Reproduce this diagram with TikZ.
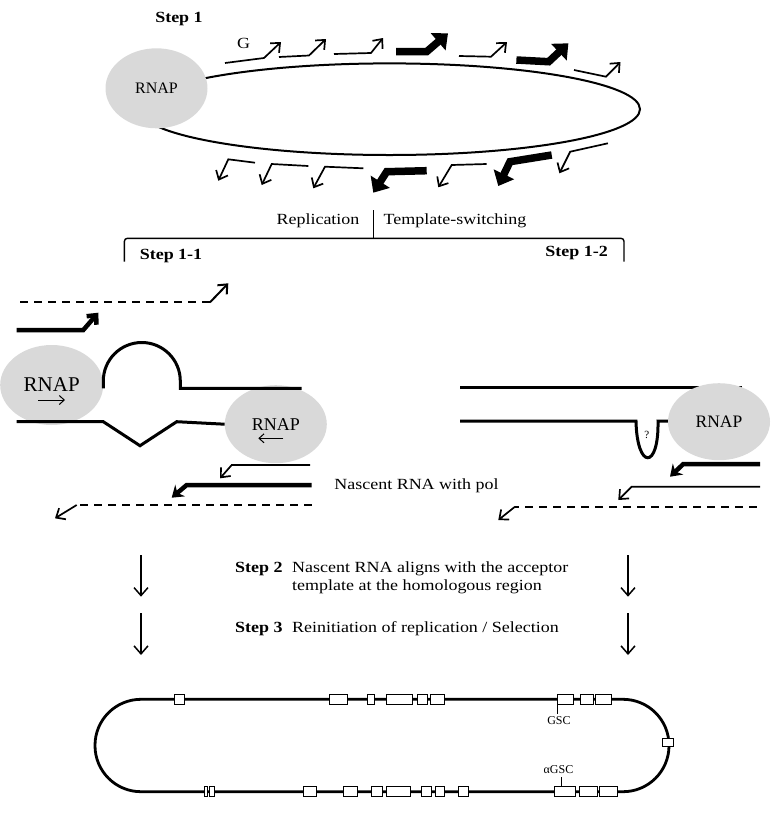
\documentclass[tikz,border=0pt]{standalone}
\usepackage{fontspec}
\setmainfont{Liberation Serif}
\usepackage{xcolor}
\usepackage{graphicx}
\usetikzlibrary{arrows.meta,shapes.geometric}
\definecolor{rnapgray}{RGB}{217,217,217}
\newcommand{\wide}[1]{\scalebox{1.16}[1]{#1}}

\begin{document}
\begin{tikzpicture}[x=1pt,y=-1pt,
        rnap/.style={ellipse,fill=rnapgray,inner sep=0pt,minimum width=102pt,minimum height=79pt},
        txt/.style={font=\fontsize{15.5}{15.5}\selectfont,inner sep=0pt},
        steplabel/.style={font=\fontsize{15.5}{15.5}\selectfont\bfseries,inner sep=0pt},
        thinarr/.style={line width=1.7pt,-{Straight Barb[length=7.5pt,width=13pt]}},
        thickarr/.style={line width=7.5pt,-{Triangle[length=13pt,width=22pt]}},
        boldarr/.style={line width=4.5pt,-{Straight Barb[length=7pt,width=13pt]}},
        dna/.style={line width=3pt},
        rnadash/.style={line width=2pt,dash pattern=on 8pt off 6pt},
        steparr/.style={line width=1.5pt,-{Straight Barb[length=8pt,width=14pt]}},
        gene/.style={draw,fill=white,line width=0.9pt}]
                \useasboundingbox (0,0) rectangle (771,820);
                \node[steplabel] (step1) at (179,19) {\wide{Step 1}};
                \draw[line width=2pt] (389.5,109.2) ellipse [x radius=250.5, y radius=45.8];
                \node[rnap,minimum height=80pt,font=\fontsize{16}{16}\selectfont] (rnaptop) at (156.5,88.3) {RNAP};
                \node[txt] (g) at (243.6,43.3) {\wide{G}};
                \foreach \a/\b/\c/\d/\e/\f in {225/63/264/58/281/42, 279/57/309/55.5/326/39, 334/54/371/53/383/38, 459/56/491/56.7/507/42, 574/70/606/76.7/620.5/62,
                        255/162.7/228.3/159.3/218.3/180.7, 308.3/166/271.7/164/261.7/185, 363.3/168.3/325/166.7/313.3/188.3, 486.7/164/451.7/165/438.3/187.3, 607.9/143.3/570.2/151.7/559.4/173.3}
                    \draw[thinarr] (\a,\b) -- (\c,\d) -- (\e,\f);
                \foreach \a/\b/\c/\d/\e/\f in {396/51.7/426.6/51.7/448/33.3, 516.4/60/548.7/61.7/568.4/43.3,
                        426.7/170.7/386.7/171.7/373.3/192.7, 551.7/155/510/161.7/498.3/186}
                    \draw[thickarr] (\a,\b) -- (\c,\d) -- (\e,\f);
                \node[txt] (repl) at (318,221) {\wide{Replication}};
                \node[txt] (tswitch) at (455,221) {\wide{Template-switching}};
                \coordinate (split) at (373.5,238.3);
                \draw[line width=1.2pt] (split) -- ++(0,-28);
                \draw[line width=1.4pt,rounded corners=3pt] (124.4,261.7) -- (124.4,238.3) -- (624,238.3) -- (624,261.7);
                \node[steplabel] (step11) at (171,256) {\wide{Step 1-1}};
                \node[steplabel] (step12) at (576.6,253) {\wide{Step 1-2}};
                \draw[rnadash] (20,302.3) -- (210,302.3);
                \draw[thinarr,line width=2pt] (210,302.3) -- (228.3,283.3);
                \draw[boldarr] (16.7,330) -- (83.3,330) -- (98.3,312.7);
                \node[rnap,minimum width=103pt,minimum height=80pt,font=\fontsize{21}{21}\selectfont] (rnapa) at (51.7,385) {RNAP};
                \draw[line width=1pt,-{Straight Barb[length=5pt,width=9pt]}] (38.3,400) -- (65,400);
                \node[rnap,minimum height=78pt,font=\fontsize{18}{18}\selectfont] (rnapb) at (275.8,424.2) {RNAP};
                \draw[line width=1pt,-{Straight Barb[length=5pt,width=9pt]}] (283.3,438.3) -- (258.3,438.3);
                \draw[dna] (103.3,388.3) -- (103.3,381) arc[start angle=180,end angle=360,radius=38.5] -- (180.3,388.3) -- (301.7,388.3);
                \draw[dna] (16.7,421.7) -- (103.3,421.7) -- (140,445.7) -- (176.7,421.7) -- (rnapb.west);
                \draw[thinarr] (310,465) -- (231.7,465) -- (220,478.3);
                \draw[boldarr,-{Stealth[length=11pt,width=15pt]}] (311.7,485) -- (186.7,485) -- (171.7,497.7);
                \draw[rnadash] (311.7,505) -- (76.7,505);
                \draw[thinarr] (76.7,505) -- (55,518.3);
                \node[txt] (nascent) at (416.5,486) {\wide{Nascent RNA with pol}};
                \draw[dna] (460,387.3) -- (741.7,387.3);
                \draw[dna] (460,421) -- (636,421) .. controls (637,470) and (659,470) .. (658,421) -- (670,421);
                \node[font=\fontsize{11}{11}\selectfont,inner sep=0pt] (quest) at (646.7,435) {?};
                \node[rnap,minimum height=77pt,font=\fontsize{17.5}{17.5}\selectfont] (rnapc) at (719,421.7) {RNAP};
                \draw[boldarr,-{Stealth[length=11pt,width=15pt]}] (760,464) -- (683.3,464) -- (670,476.7);
                \draw[thinarr] (760,486.7) -- (631.7,486.7) -- (618.3,500);
                \draw[rnadash] (756.7,506.7) -- (515,506.7);
                \draw[thinarr] (515,506.7) -- (498.3,520);
                \foreach \xx in {141,628} {
                    \draw[steparr] (\xx,555) -- (\xx,596.7);
                    \draw[steparr] (\xx,613) -- (\xx,655);
                }
                \node[steplabel,anchor=base west] (step2) at (235,572) {\wide{Step 2}};
                \node[txt,anchor=base west] (alignA) at (292,572) {\wide{Nascent RNA aligns with the acceptor}};
                \node[txt,anchor=base west] (alignB) at (292,590) {\wide{template at the homologous region}};
                \node[steplabel,anchor=base west] (step3) at (235,632) {\wide{Step 3}};
                \node[txt,anchor=base west] (reinit) at (292,632) {\wide{Reinitiation of replication / Selection}};
                \draw[line width=2.8pt,rounded corners=46pt] (95,699.3) rectangle (669,791.7);
                \foreach \l/\r in {174.6/184.5, 329.6/347.1, 367/374.1, 386/412.3, 417.4/427.4, 430.6/444.5, 557/573.6, 580.8/593.5, 595.9/611}
                    \draw[gene] (\l,694.3) rectangle (\r,704.3);
                \foreach \l/\r in {204.4/207.6, 209.2/214, 303.4/316.9, 343.1/357, 371/382, 386/410, 421/431, 435/444.9, 458.4/468.3, 554.2/575.6, 579.2/597.5, 599.9/617}
                    \draw[gene] (\l,786.7) rectangle (\r,796.7);
                \draw[gene] (662.3,738.3) rectangle (673.4,746.7);
                \node[font=\fontsize{12}{12}\selectfont,inner sep=0pt] (gsc) at (559,721) {GSC};
                \draw[line width=0.8pt] (557,704.3) -- (557,714);
                \node[font=\fontsize{12}{12}\selectfont,inner sep=0pt] (agsc) at (558.5,769.5) {αGSC};
                \draw[line width=0.8pt] (561,777) -- (561,786.7);
            \end{tikzpicture}
\end{document}
